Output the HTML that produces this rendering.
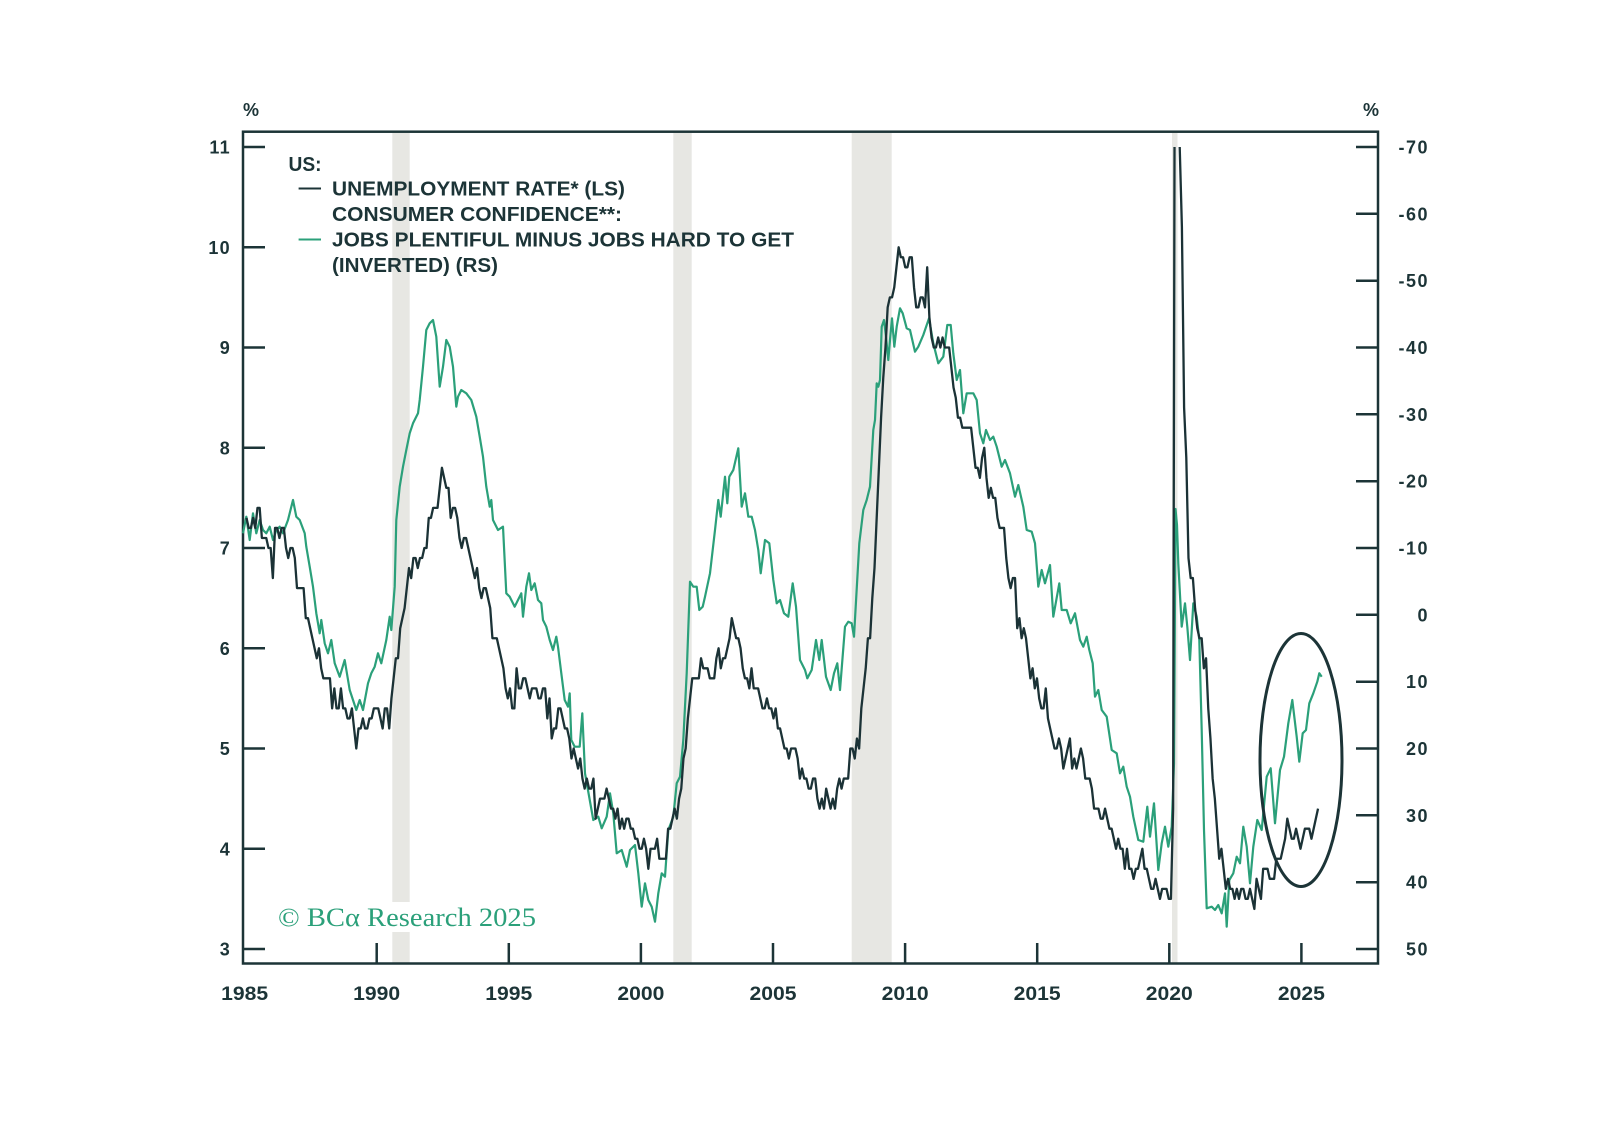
<!DOCTYPE html>
<html>
<head>
<meta charset="utf-8">
<style>
  html,body{margin:0;padding:0;background:#fff;}
  body{width:1598px;height:1144px;overflow:hidden;}
  svg{display:block;}
  .ax{font-family:"Liberation Sans",sans-serif;font-weight:700;font-size:18px;fill:#1c3437;}
  .lg{font-family:"Liberation Sans",sans-serif;font-weight:700;font-size:20px;fill:#1c3437;}
</style>
</head>
<body>
<svg width="1598" height="1144" viewBox="0 0 1598 1144" xmlns="http://www.w3.org/2000/svg">
  <rect x="0" y="0" width="1598" height="1144" fill="#ffffff"/>

  <!-- recession bands -->
  <g fill="#e7e7e3">
    <rect x="392.3" y="133" width="17.4" height="830"/>
    <rect x="673.3" y="133" width="18.4" height="830"/>
    <rect x="851.7" y="133" width="40" height="830"/>
    <rect x="1172" y="133" width="5.5" height="830"/>
  </g>
  <!-- white box behind copyright -->
  <rect x="272" y="902" width="270" height="30" fill="#ffffff"/>

  <!-- frame -->
  <rect x="243" y="131.7" width="1135" height="831.8" fill="none" stroke="#1c3437" stroke-width="2.5"/>

  <!-- left ticks -->
  <g stroke="#1c3437" stroke-width="2.5">
    <line x1="243" y1="147" x2="265" y2="147"/>
    <line x1="243" y1="247.25" x2="265" y2="247.25"/>
    <line x1="243" y1="347.5" x2="265" y2="347.5"/>
    <line x1="243" y1="447.75" x2="265" y2="447.75"/>
    <line x1="243" y1="548" x2="265" y2="548"/>
    <line x1="243" y1="648.25" x2="265" y2="648.25"/>
    <line x1="243" y1="748.5" x2="265" y2="748.5"/>
    <line x1="243" y1="848.75" x2="265" y2="848.75"/>
    <line x1="243" y1="949" x2="265" y2="949"/>
  </g>
  <!-- right ticks -->
  <g stroke="#1c3437" stroke-width="2.5">
    <line x1="1356" y1="147" x2="1378" y2="147"/>
    <line x1="1356" y1="213.8" x2="1378" y2="213.8"/>
    <line x1="1356" y1="280.7" x2="1378" y2="280.7"/>
    <line x1="1356" y1="347.5" x2="1378" y2="347.5"/>
    <line x1="1356" y1="414.3" x2="1378" y2="414.3"/>
    <line x1="1356" y1="481.2" x2="1378" y2="481.2"/>
    <line x1="1356" y1="548" x2="1378" y2="548"/>
    <line x1="1356" y1="614.8" x2="1378" y2="614.8"/>
    <line x1="1356" y1="681.7" x2="1378" y2="681.7"/>
    <line x1="1356" y1="748.5" x2="1378" y2="748.5"/>
    <line x1="1356" y1="815.3" x2="1378" y2="815.3"/>
    <line x1="1356" y1="882.2" x2="1378" y2="882.2"/>
    <line x1="1356" y1="949" x2="1378" y2="949"/>
  </g>
  <!-- x ticks -->
  <g stroke="#1c3437" stroke-width="2.5">
    <line x1="376.7" y1="943" x2="376.7" y2="964"/>
    <line x1="508.8" y1="943" x2="508.8" y2="964"/>
    <line x1="640.9" y1="943" x2="640.9" y2="964"/>
    <line x1="773" y1="943" x2="773" y2="964"/>
    <line x1="905.1" y1="943" x2="905.1" y2="964"/>
    <line x1="1037.2" y1="943" x2="1037.2" y2="964"/>
    <line x1="1169.3" y1="943" x2="1169.3" y2="964"/>
    <line x1="1301.4" y1="943" x2="1301.4" y2="964"/>
  </g>

  <!-- left labels -->
  <g class="ax" text-anchor="end" style="letter-spacing:1.3px">
    <text x="231" y="153.5">11</text>
    <text x="231" y="253.8">10</text>
    <text x="231" y="354">9</text>
    <text x="231" y="454.3">8</text>
    <text x="231" y="554.5">7</text>
    <text x="231" y="654.8">6</text>
    <text x="231" y="755">5</text>
    <text x="231" y="855.3">4</text>
    <text x="231" y="955.5">3</text>
  </g>
  <!-- right labels -->
  <g class="ax" text-anchor="end" style="letter-spacing:1.5px">
    <text x="1429" y="153.5">-70</text>
    <text x="1429" y="220.3">-60</text>
    <text x="1429" y="287.2">-50</text>
    <text x="1429" y="354">-40</text>
    <text x="1429" y="420.8">-30</text>
    <text x="1429" y="487.7">-20</text>
    <text x="1429" y="554.5">-10</text>
    <text x="1429" y="621.3">0</text>
    <text x="1429" y="688.2">10</text>
    <text x="1429" y="755">20</text>
    <text x="1429" y="821.8">30</text>
    <text x="1429" y="888.7">40</text>
    <text x="1429" y="955.5">50</text>
  </g>
  <!-- percent labels -->
  <text class="ax" x="251" y="116" text-anchor="middle">%</text>
  <text class="ax" x="1371" y="116" text-anchor="middle">%</text>

  <!-- x labels -->
  <g class="ax" text-anchor="middle" style="font-size:19px">
    <text x="244.6" y="1000" textLength="47" lengthAdjust="spacingAndGlyphs">1985</text>
    <text x="376.7" y="1000" textLength="47" lengthAdjust="spacingAndGlyphs">1990</text>
    <text x="508.8" y="1000" textLength="47" lengthAdjust="spacingAndGlyphs">1995</text>
    <text x="640.9" y="1000" textLength="47" lengthAdjust="spacingAndGlyphs">2000</text>
    <text x="773" y="1000" textLength="47" lengthAdjust="spacingAndGlyphs">2005</text>
    <text x="905.1" y="1000" textLength="47" lengthAdjust="spacingAndGlyphs">2010</text>
    <text x="1037.2" y="1000" textLength="47" lengthAdjust="spacingAndGlyphs">2015</text>
    <text x="1169.3" y="1000" textLength="47" lengthAdjust="spacingAndGlyphs">2020</text>
    <text x="1301.4" y="1000" textLength="47" lengthAdjust="spacingAndGlyphs">2025</text>
  </g>

  <!-- green series (inverted labor differential) -->
  <polyline fill="none" stroke="#2ba07a" stroke-width="2.2" stroke-linejoin="round" points="243,533.3 246.3,516.7 249.7,540 253,513.3 256.3,533.3 259.7,520 263,530 266.3,533.3 269.7,526.7 273,540 276.3,530 279.7,526.7 283,533.3 288,520 293,500 296.3,516.7 299.7,520 304.7,533.3 306.3,546.7 309.7,566.7 313,586.7 316.3,613.3 319.7,633.3 321.3,620 324.7,643.3 328,653.3 331.3,640 334.7,663.3 339.7,676.7 344.7,660 349.7,690 353,700 356.3,710 359.7,700 363,710 368,683.3 371.3,673.3 374.7,666.7 378,653.3 381.3,663.3 386.3,640 389.7,616.7 391.3,630 394.7,586.7 396.3,520 399.7,486.7 403,466.7 406.3,450 409.7,433.3 413,423.3 418,413.3 419.7,400 423,366.7 426.3,330 429.7,323.3 433,320 436.3,336.7 439.7,386.7 443,366.7 446.3,340 449.7,346.7 453,366.7 456.3,406.7 458,396.7 461.3,390 466.3,393.3 471.3,400 476.3,416.7 479.7,436.7 483,456.7 486.3,486.7 489.7,506.7 491.3,500 493,520 498,530 503,526.7 506.3,593.3 509.7,596.7 514.7,606.7 518,600 521.3,593.3 523,616.7 526.3,586.7 529,573.3 531.3,590 534.7,583.3 538,600 541.3,603.3 543,620 546.3,626.7 549.7,640 553,650 556.3,636.7 558,646.7 561.3,673.3 564.7,700 568,706.7 569.7,693.3 571.3,740 574.7,746.7 579.7,746.7 582.3,713.3 585,773.3 593.3,820 598.3,816.7 601.7,828.3 606.7,816.7 610,793.3 613.3,813.3 616.7,853.3 621.7,850 626.7,866.7 630,850 635,845 638.3,873.3 641.7,906.7 645,883.3 648.3,900 651.7,906.7 655,921.7 658.3,893.3 661.7,873.3 665,876.7 668.3,830 673.3,816.7 676.7,783.3 680,776.7 683.3,740 686.7,673.3 690,581.7 693.3,586.7 696.7,586.7 699.3,610 702.7,606.7 705,596.7 710,573.3 715,530 718.3,500 720.7,516.7 725,476.7 727.3,503.3 729.3,476.7 733.3,470 738.3,448.3 741.7,506.7 745,493.3 748.3,516.7 751.7,516.7 755,530 758.3,550 760.7,573.3 765,540 769.3,543.3 773.3,580 776.7,603.3 780,600 784,613.3 788.3,616.7 792.7,583.3 796,606.7 800,660 805,670 807.3,678.3 811.7,670 816,640 819.3,660 821.7,640 826,676.7 830.7,690 834,673.3 837.3,663.3 840,690 845,626.7 848.3,621.7 851.7,623.3 854,636.7 859.3,543.3 863.3,510 866.7,500 870,486.7 873.3,430 875,420 876.7,383.3 878.3,386.7 880,380 881.7,326.7 884,320 886,336.7 888.3,360 890,340 892,318.3 894.3,346.7 896.7,326.7 900,308.3 902.7,313.3 906.7,328.3 910,330 915,351.7 918.3,346.7 923.3,335 929,318.3 933.3,343.3 938.3,363.3 943.3,356.7 947.3,325 950.7,325 953.3,353.3 956.7,380 960,370 963.3,413.3 966.7,393.3 973.3,393.3 976.7,400 980,433.3 983.3,443.3 986,430 990,440 993.3,436.7 996.7,446.7 1001.7,466.7 1005,460 1010,473.3 1015,496.7 1018.3,485 1023.3,506.7 1026.7,530 1031.7,531.7 1035,543.3 1038.3,586.7 1041.7,570 1045,583.3 1050,565 1053.3,616.7 1059.3,583.3 1061.7,610 1066.7,610 1070.7,623.3 1075,613.3 1080,640 1083.3,646.7 1086.7,636.7 1089.3,650 1092.7,663.3 1095,696.7 1098.3,690 1101.7,710 1106.7,716.7 1111.7,750 1116.7,753.3 1120,773.3 1123.3,766.7 1126.7,786.7 1130,796.7 1133.3,816.7 1138.3,840 1143.3,841.7 1147.3,806.7 1150,836.7 1154,803.3 1158.3,870 1161.7,843.3 1165,826.7 1168.3,846.7 1171.7,826.7 1174,763.3 1175.5,509 1177,525 1178.3,563.3 1181.7,626.7 1185,603.3 1187.3,626.7 1190,660 1193.3,603.3 1196.7,616.7 1199.3,640 1201.7,730 1204,830 1206.7,908.3 1211.7,906.7 1215,910 1218.3,905 1221.7,913.3 1225,893.3 1226.7,926.7 1229.3,880 1233.3,873.3 1236.7,856.7 1240,863.3 1243.3,826.7 1246.7,846.7 1250,883.3 1253.3,846.7 1257.3,820 1261.7,830 1266.7,776.7 1270.7,768.3 1275,823.3 1280,770 1284,756.7 1288.3,723.3 1292.3,700 1296.7,736.7 1299.3,761.7 1302.7,733.3 1306,730 1309.3,703.3 1313.3,693.3 1317.3,681.7 1319.3,673.3 1321.7,676.7"/>

  <!-- black series: unemployment rate, data coords (month index, -rate*10) -->
  <svg x="243" y="147" width="1135" height="802" viewBox="-1.594 -110 516.9 80" preserveAspectRatio="none" overflow="hidden">
    <polyline fill="none" stroke="#1b3236" stroke-width="2.3" stroke-linejoin="round" vector-effect="non-scaling-stroke" points="0,-73 1,-72 2,-72 3,-73 4,-72 5,-74 6,-74 7,-71 8,-71 9,-71 10,-70 11,-70 12,-67 13,-72 14,-72 15,-71 16,-72 17,-72 18,-70 19,-69 20,-70 21,-70 22,-69 23,-66 24,-66 25,-66 26,-66 27,-63 28,-63 29,-62 30,-61 31,-60 32,-59 33,-60 34,-58 35,-57 36,-57 37,-57 38,-57 39,-54 40,-56 41,-54 42,-54 43,-56 44,-54 45,-54 46,-53 47,-53 48,-54 49,-52 50,-50 51,-52 52,-52 53,-53 54,-52 55,-52 56,-53 57,-53 58,-54 59,-54 60,-54 61,-53 62,-52 63,-54 64,-54 65,-52 66,-55 67,-57 68,-59 69,-59 70,-62 71,-63 72,-64 73,-66 74,-68 75,-67 76,-69 77,-69 78,-68 79,-69 80,-69 81,-70 82,-70 83,-73 84,-73 85,-74 86,-74 87,-74 88,-76 89,-78 90,-77 91,-76 92,-76 93,-73 94,-74 95,-74 96,-73 97,-71 98,-70 99,-71 100,-71 101,-70 102,-69 103,-68 104,-67 105,-68 106,-66 107,-65 108,-66 109,-66 110,-65 111,-64 112,-61 113,-61 114,-61 115,-60 116,-59 117,-58 118,-56 119,-55 120,-56 121,-54 122,-54 123,-58 124,-56 125,-56 126,-57 127,-57 128,-56 129,-55 130,-56 131,-56 132,-56 133,-55 134,-55 135,-56 136,-56 137,-53 138,-55 139,-51 140,-52 141,-52 142,-54 143,-54 144,-53 145,-52 146,-52 147,-51 148,-49 149,-50 150,-49 151,-48 152,-49 153,-47 154,-46 155,-47 156,-46 157,-46 158,-47 159,-43 160,-44 161,-45 162,-45 163,-45 164,-46 165,-45 166,-44 167,-44 168,-43 169,-44 170,-42 171,-43 172,-42 173,-43 174,-43 175,-42 176,-42 177,-41 178,-41 179,-40 180,-40 181,-41 182,-40 183,-38 184,-40 185,-40 186,-40 187,-41 188,-39 189,-39 190,-39 191,-39 192,-42 193,-42 194,-43 195,-44 196,-43 197,-45 198,-46 199,-49 200,-50 201,-53 202,-55 203,-57 204,-57 205,-57 206,-57 207,-59 208,-58 209,-58 210,-58 211,-57 212,-57 213,-57 214,-59 215,-60 216,-58 217,-59 218,-59 219,-60 220,-61 221,-63 222,-62 223,-61 224,-61 225,-60 226,-58 227,-57 228,-57 229,-56 230,-58 231,-56 232,-56 233,-56 234,-55 235,-54 236,-54 237,-55 238,-54 239,-54 240,-53 241,-54 242,-52 243,-52 244,-51 245,-50 246,-50 247,-49 248,-50 249,-50 250,-50 251,-49 252,-47 253,-48 254,-47 255,-47 256,-46 257,-46 258,-47 259,-47 260,-45 261,-44 262,-45 263,-44 264,-46 265,-45 266,-44 267,-45 268,-44 269,-46 270,-47 271,-46 272,-47 273,-47 274,-47 275,-50 276,-50 277,-49 278,-51 279,-50 280,-54 281,-56 282,-58 283,-61 284,-61 285,-65 286,-68 287,-73 288,-78 289,-83 290,-87 291,-90 292,-94 293,-95 294,-95 295,-96 296,-98 297,-100 298,-99 299,-99 300,-98 301,-98 302,-99 303,-99 304,-96 305,-94 306,-94 307,-95 308,-95 309,-94 310,-98 311,-93 312,-91 313,-90 314,-90 315,-91 316,-90 317,-91 318,-90 319,-90 320,-90 321,-88 322,-86 323,-85 324,-83 325,-83 326,-82 327,-82 328,-82 329,-82 330,-82 331,-80 332,-78 333,-78 334,-77 335,-79 336,-80 337,-77 338,-75 339,-76 340,-75 341,-75 342,-73 343,-72 344,-72 345,-72 346,-69 347,-67 348,-66 349,-67 350,-67 351,-62 352,-63 353,-61 354,-62 355,-61 356,-59 357,-57 358,-58 359,-56 360,-57 361,-55 362,-54 363,-54 364,-56 365,-53 366,-52 367,-51 368,-50 369,-50 370,-51 371,-50 372,-48 373,-49 374,-50 375,-51 376,-48 377,-49 378,-48 379,-49 380,-50 381,-49 382,-47 383,-47 384,-47 385,-46 386,-44 387,-44 388,-44 389,-43 390,-43 391,-44 392,-43 393,-42 394,-42 395,-41 396,-40 397,-41 398,-40 399,-40 400,-38 401,-40 402,-38 403,-38 404,-37 405,-38 406,-38 407,-39 408,-40 409,-38 410,-38 411,-37 412,-36 413,-36 414,-37 415,-36 416,-35 417,-36 418,-36 419,-36 420,-35 421,-35 422,-44 423,-148 424,-132 425,-110 426,-102 427,-84 428,-79 429,-69 430,-67 431,-67 432,-64 433,-62 434,-61 435,-61 436,-58 437,-59 438,-54 439,-51 440,-47 441,-45 442,-42 443,-39 444,-40 445,-38 446,-36 447,-37 448,-36 449,-36 450,-35 451,-36 452,-35 453,-36 454,-36 455,-35 456,-35 457,-36 458,-35 459,-34 460,-37 461,-36 462,-35 463,-38 464,-38 465,-38 466,-37 467,-37 468,-37 469,-39 470,-39 471,-39 472,-40 473,-41 474,-43 475,-42 476,-41 477,-41 478,-42 479,-41 480,-40 481,-41 482,-42 483,-42 484,-42 485,-41 486,-42 487,-43 488,-44"/>
  </svg>

  <!-- ellipse highlight -->
  <ellipse cx="1301" cy="760" rx="41" ry="126.5" fill="none" stroke="#1c3437" stroke-width="3"/>

  <!-- legend -->
  <text class="lg" x="288.5" y="171" textLength="33" lengthAdjust="spacingAndGlyphs">US:</text>
  <line x1="298.6" y1="188.5" x2="321" y2="188.5" stroke="#1c3437" stroke-width="2"/>
  <text class="lg" x="332" y="195.5" textLength="293" lengthAdjust="spacingAndGlyphs">UNEMPLOYMENT RATE* (LS)</text>
  <text class="lg" x="332" y="221" textLength="290" lengthAdjust="spacingAndGlyphs">CONSUMER CONFIDENCE**:</text>
  <line x1="298.6" y1="239.5" x2="321" y2="239.5" stroke="#2ba07a" stroke-width="2"/>
  <text class="lg" x="332" y="246.5" textLength="462" lengthAdjust="spacingAndGlyphs">JOBS PLENTIFUL MINUS JOBS HARD TO GET</text>
  <text class="lg" x="332" y="272" textLength="166" lengthAdjust="spacingAndGlyphs">(INVERTED) (RS)</text>

  <!-- copyright -->
  <text x="278" y="926" fill="#2ba07a" style="font-family:'Liberation Serif',serif;font-size:26px" textLength="258" lengthAdjust="spacingAndGlyphs">© BCα Research 2025</text>
</svg>
</body>
</html>
